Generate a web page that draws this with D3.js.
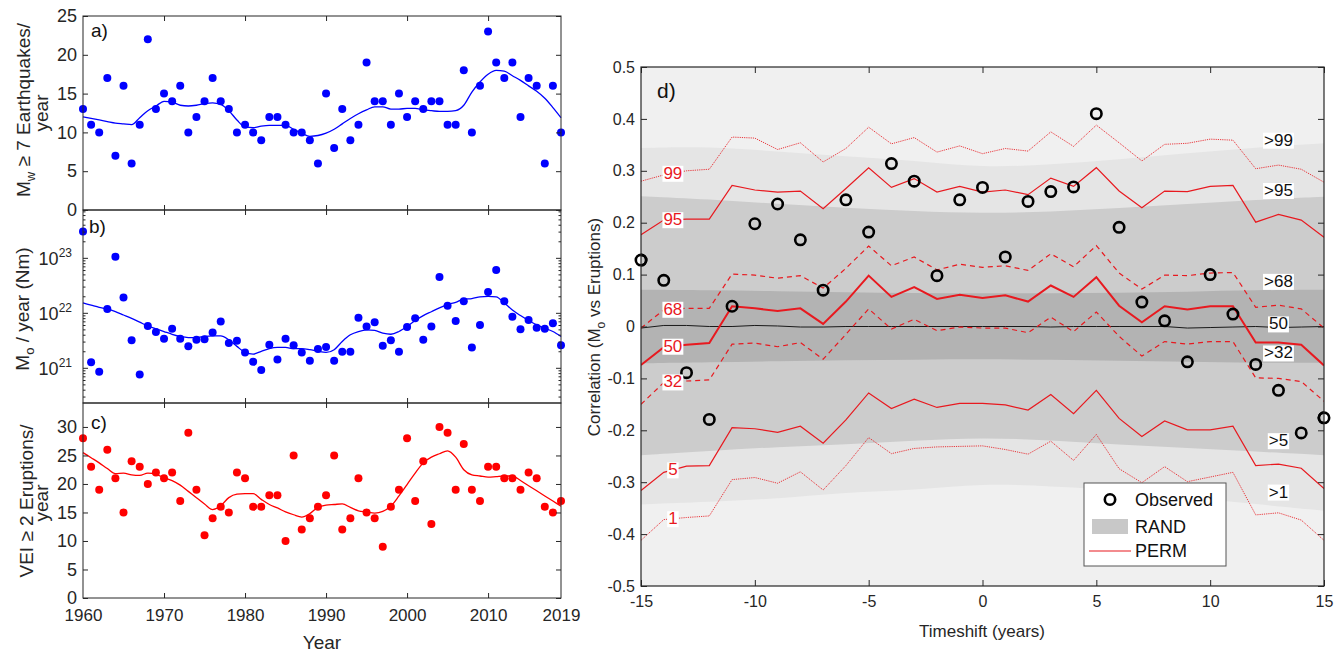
<!DOCTYPE html>
<html>
<head>
<meta charset="utf-8">
<script src="https://cdn.jsdelivr.net/npm/d3@7"></script>
<style>
  body { margin: 0; background: #fff; }
  svg { font-family: "Liberation Sans", Arial, sans-serif; }
</style>
</head>
<body>
<svg id="chart" width="1343" height="654"></svg>
<script>
// ---------- data: panels a-c (one value per year, 1960-2019) ----------
const years = d3.range(1960, 2020);

const quakeCount = [13,11,10,17,7,16,6,11,22,13, 15,14,16,10,12,14,17,14,13,10,
  11,10,9,12,12,11,10,10,9,6, 15,8,13,9,11,19,14,14,11,15,
  12,14,13,14,14,11,11,18,10,16, 23,19,17,19,12,17,16,6,16,10];
const quakeSmooth = [12.0,11.8,11.6,11.4,11.2,11.1,11.0,11.9,12.8,13.4,
  14.0,13.9,13.5,13.4,13.5,13.7,13.8,13.6,12.8,11.6,
  10.7,10.6,10.8,10.9,10.9,10.9,10.4,9.9,9.5,9.6,
  9.9,10.4,11.1,11.8,12.4,12.9,13.3,13.3,13.0,13.0,
  13.1,13.1,12.9,12.8,12.7,12.7,12.8,13.5,15.2,16.5,
  17.5,18.0,17.9,17.3,16.7,16.0,15.3,14.4,13.2,11.9];

// seismic moment per year, log10(Nm)
const momentLog = [23.48,21.10,20.93,22.07,23.02,22.28,21.50,20.88,21.76,21.65,
  21.53,21.71,21.53,21.39,21.51,21.52,21.64,21.84,21.45,21.49,
  21.28,21.11,20.96,21.42,21.15,21.53,21.41,21.28,21.13,21.34,
  21.38,21.13,21.29,21.29,21.91,21.75,21.83,21.40,21.50,21.29,
  21.74,21.90,21.51,21.75,22.65,22.13,21.85,22.21,21.37,21.78,
  22.38,22.78,22.21,21.93,21.70,21.87,21.73,21.71,21.81,21.41];
const momentSmoothLog = [22.18,22.14,22.10,22.07,22.02,21.96,21.90,21.83,21.76,21.71,
  21.66,21.61,21.57,21.55,21.55,21.57,21.58,21.58,21.51,21.39,
  21.28,21.25,21.30,21.35,21.37,21.37,21.35,21.35,21.33,21.30,
  21.28,21.33,21.48,21.60,21.66,21.69,21.68,21.63,21.61,21.66,
  21.75,21.86,21.95,22.02,22.09,22.15,22.19,22.25,22.26,22.29,
  22.30,22.29,22.18,22.05,21.95,21.86,21.78,21.72,21.66,21.57];

const eruptCount = [28,23,19,26,21,15,24,23,20,22, 21,22,17,29,19,11,14,16,15,22,
  21,16,16,18,18,10,25,12,14,16, 18,25,12,14,21,15,14,9,16,19,
  28,17,24,13,30,29,19,27,19,17, 23,23,21,21,19,22,21,16,15,17];
const eruptSmooth = [25.5,24.6,23.7,22.7,21.8,21.9,21.6,21.5,21.9,21.7,
  21.1,20.6,19.8,18.7,17.6,16.5,15.5,16.2,17.6,18.2,
  18.3,18.3,17.3,16.4,15.8,15.1,14.6,14.2,14.8,15.9,
  16.3,16.4,16.5,15.9,15.3,15.1,14.9,15.2,16.1,17.9,
  19.9,21.9,23.7,24.7,25.3,25.8,24.7,22.5,21.6,21.4,
  21.2,21.3,21.4,21.4,20.6,19.7,18.8,17.9,17.0,16.1];

const yearTicks = [1970, 1980, 1990, 2000, 2010];
const yearLabels = [1960, 1970, 1980, 1990, 2000, 2010, 2019];

// ---------- data: panel d ----------
const shifts = [-15,-14,-13,-12,-11,-10,-9,-8,-7,-6,-5,-4,-3,-2,-1,0,1,2,3,4,5,6,7,8,9,10,11,12,13,14,15];
const observed = [0.128,0.089,-0.089,-0.179,0.039,0.198,0.236,0.167,0.070,0.244,0.182,0.314,0.280,0.098,0.244,
  0.268,0.134,0.241,0.260,0.269,0.410,0.191,0.047,0.011,-0.068,0.100,0.024,-0.073,-0.123,-0.205,-0.176];

// PERM percentiles
const perm99 = [0.280,0.292,0.300,0.303,0.365,0.363,0.341,0.354,0.317,0.343,0.384,0.352,0.364,0.336,0.348,
  0.333,0.343,0.338,0.375,0.347,0.388,0.354,0.319,0.351,0.353,0.361,0.359,0.304,0.311,0.303,0.278];
const perm95 = [0.177,0.205,0.207,0.207,0.272,0.263,0.259,0.261,0.227,0.266,0.306,0.268,0.285,0.259,0.270,
  0.259,0.263,0.254,0.286,0.270,0.306,0.261,0.229,0.261,0.260,0.270,0.272,0.201,0.216,0.205,0.172];
const perm68 = [-0.003,0.032,0.035,0.035,0.101,0.099,0.093,0.098,0.074,0.112,0.155,0.117,0.134,0.109,0.120,
  0.114,0.117,0.108,0.140,0.115,0.156,0.103,0.072,0.099,0.098,0.103,0.104,0.037,0.041,0.034,-0.003];
const perm50 = [-0.074,-0.040,-0.035,-0.032,0.039,0.035,0.030,0.035,0.005,0.048,0.098,0.057,0.076,0.053,0.061,
  0.055,0.060,0.048,0.079,0.057,0.095,0.040,0.008,0.039,0.033,0.039,0.039,-0.031,-0.031,-0.035,-0.075];
const perm32 = [-0.150,-0.108,-0.105,-0.103,-0.034,-0.032,-0.039,-0.031,-0.063,-0.015,0.034,-0.005,0.014,-0.008,-0.001,
  -0.003,-0.003,-0.012,0.018,-0.010,0.028,-0.019,-0.057,-0.029,-0.034,-0.029,-0.029,-0.099,-0.100,-0.106,-0.144];
const perm5 = [-0.316,-0.281,-0.269,-0.268,-0.195,-0.197,-0.204,-0.192,-0.225,-0.180,-0.128,-0.158,-0.140,-0.156,-0.148,
  -0.148,-0.151,-0.161,-0.131,-0.168,-0.123,-0.177,-0.212,-0.182,-0.199,-0.199,-0.192,-0.268,-0.265,-0.273,-0.312];
const perm1 = [-0.412,-0.372,-0.368,-0.365,-0.295,-0.291,-0.302,-0.280,-0.315,-0.268,-0.214,-0.245,-0.235,-0.232,-0.231,
  -0.230,-0.237,-0.246,-0.221,-0.258,-0.208,-0.274,-0.301,-0.270,-0.299,-0.290,-0.281,-0.363,-0.359,-0.373,-0.412];
const randMedian = [-0.003,0.002,0.002,0.000,0.000,0.002,0.001,-0.001,-0.001,0.000,0.000,0.000,0.000,0.000,0.000,
  0.000,0.000,0.000,-0.001,0.000,0.000,0.000,0.000,0.000,-0.003,-0.002,-0.001,0.000,-0.002,-0.001,0.000];

// RAND percentile envelopes (smooth), sampled every 3 years
const randT = [-15,-12,-9,-6,-3,0,3,6,9,12,15];
const rand99 = [0.344,0.347,0.337,0.328,0.320,0.306,0.312,0.322,0.334,0.345,0.353];
const rand95 = [0.251,0.245,0.236,0.229,0.222,0.218,0.221,0.228,0.236,0.244,0.250];
const rand68 = [0.071,0.070,0.068,0.066,0.064,0.064,0.064,0.065,0.067,0.070,0.071];
const rand32 = [-0.071,-0.069,-0.067,-0.065,-0.064,-0.063,-0.064,-0.066,-0.068,-0.070,-0.070];
const rand5 = [-0.248,-0.240,-0.232,-0.227,-0.220,-0.214,-0.219,-0.228,-0.234,-0.241,-0.248];
const rand1 = [-0.343,-0.338,-0.332,-0.319,-0.316,-0.302,-0.308,-0.315,-0.330,-0.342,-0.355];

const randLabels = [">99", ">95", ">68", "50", ">32", ">5", ">1"];
const randLabelY = [0.359, 0.262, 0.087, 0.005, -0.051, -0.220, -0.319];

const svg = d3.select("#chart");
const frameColor = "#262626";
const permRed = "#e8191f";

// ---------- panels a-c ----------
const x = d3.scaleLinear().domain([1960, 2019]).range([83, 561]);

function frameTicks(g, yScale, top, bottom, yTicks, tickLen) {
  g.append("g").attr("transform", `translate(0,${bottom})`)
    .call(d3.axisTop(x).tickValues(yearTicks).tickSize(5).tickFormat(""));
  g.append("g").attr("transform", `translate(0,${top})`)
    .call(d3.axisBottom(x).tickValues(yearTicks).tickSize(5).tickFormat(""));
  g.append("g").attr("transform", `translate(${x.range()[0]},0)`)
    .call(d3.axisRight(yScale).tickValues(yTicks).tickSize(tickLen || 5).tickFormat(""));
  g.append("g").attr("transform", `translate(${x.range()[1]},0)`)
    .call(d3.axisLeft(yScale).tickValues(yTicks).tickSize(tickLen || 5).tickFormat(""));
  g.selectAll(".domain").remove();
  g.selectAll(".tick line").attr("stroke", frameColor);
  g.append("rect")
    .attr("x", x.range()[0]).attr("y", top)
    .attr("width", x.range()[1] - x.range()[0]).attr("height", bottom - top)
    .attr("fill", "none").attr("stroke", frameColor).attr("stroke-width", 1);
}

function yLabels(g, yScale, ticks) {
  g.append("g").attr("transform", `translate(${x.range()[0]},0)`)
    .call(d3.axisLeft(yScale).tickValues(ticks).tickSize(0).tickPadding(6))
    .call(a => a.select(".domain").remove())
    .selectAll("text").attr("font-size", 18).attr("fill", "#262626")
    .attr("font-family", "Liberation Sans, Arial, sans-serif");
}

function scatterPanel(g, yScale, vals, smooth, color) {
  g.append("path")
    .datum(smooth)
    .attr("fill", "none").attr("stroke", color).attr("stroke-width", 1.3)
    .attr("d", d3.line().x((d, i) => x(years[i])).y(d => yScale(d)).curve(d3.curveMonotoneX));
  g.selectAll("circle.pt").data(vals).join("circle")
    .attr("class", "pt")
    .attr("cx", (d, i) => x(years[i])).attr("cy", d => yScale(d))
    .attr("r", 4).attr("fill", color);
}

// a)
const yA = d3.scaleLinear().domain([0, 25]).range([210, 16]);
const gA = svg.append("g");
scatterPanel(gA, yA, quakeCount, quakeSmooth, "#0000ff");
frameTicks(gA, yA, 16, 210, [0, 5, 10, 15, 20, 25]);
yLabels(gA, yA, [0, 5, 10, 15, 20, 25]);
gA.append("text").attr("x", 91).attr("y", 37).attr("font-size", 19).attr("fill", "#111").text("a)");

// b)
const yB = d3.scaleLog().domain([Math.pow(10, 20.36), Math.pow(10, 23.87)]).range([403, 210]);
const gB = svg.append("g");
scatterPanel(gB, d => yB(Math.pow(10, d)), momentLog, momentSmoothLog, "#0000ff");
const minorB = yB.ticks().filter(d => {
  const m = d / Math.pow(10, Math.floor(Math.log10(d) + 1e-9));
  return Math.abs(m - 1) > 1e-6;
});
const majorB = [1e21, 1e22, 1e23];
frameTicks(gB, yB, 210, 403, majorB, 5);
gB.append("g").attr("transform", `translate(${x.range()[0]},0)`)
  .call(d3.axisRight(yB).tickValues(minorB).tickSize(2.5).tickFormat(""))
  .call(a => a.select(".domain").remove());
gB.append("g").attr("transform", `translate(${x.range()[1]},0)`)
  .call(d3.axisLeft(yB).tickValues(minorB).tickSize(2.5).tickFormat(""))
  .call(a => a.select(".domain").remove());
gB.selectAll(".tick line").attr("stroke", frameColor);
majorB.forEach(v => {
  const t = gB.append("text")
    .attr("x", 72).attr("y", yB(v) + 7)
    .attr("text-anchor", "end").attr("font-size", 18).attr("fill", "#262626");
  t.append("tspan").text("10");
  t.append("tspan").attr("dy", -8).attr("font-size", 12).text(Math.round(Math.log10(v)));
});
gB.append("text").attr("x", 89).attr("y", 233).attr("font-size", 19).attr("fill", "#111").text("b)");

// c)
const yC = d3.scaleLinear().domain([0, 34.2]).range([598, 403]);
const gC = svg.append("g");
scatterPanel(gC, yC, eruptCount, eruptSmooth, "#ff0000");
frameTicks(gC, yC, 403, 598, [0, 5, 10, 15, 20, 25, 30]);
yLabels(gC, yC, [0, 5, 10, 15, 20, 25, 30]);
gC.append("g").attr("transform", "translate(0,598)")
  .call(d3.axisBottom(x).tickValues(yearLabels).tickSize(0).tickPadding(11).tickFormat(d3.format("d")))
  .call(a => a.select(".domain").remove())
  .selectAll("text").attr("font-size", 17).attr("fill", "#262626")
  .attr("font-family", "Liberation Sans, Arial, sans-serif");
gC.append("text").attr("x", 91).attr("y", 429).attr("font-size", 19).attr("fill", "#111").text("c)");
svg.append("text").attr("x", 322).attr("y", 649).attr("text-anchor", "middle")
  .attr("font-size", 19).attr("fill", "#262626").text("Year");

// rotated y titles
function rotTitle(cx, cy, build) {
  const t = svg.append("text")
    .attr("transform", `translate(${cx},${cy}) rotate(-90)`)
    .attr("text-anchor", "middle").attr("font-size", 19).attr("fill", "#262626");
  build(t);
}
rotTitle(30, 110, t => {
  t.append("tspan").text("M");
  t.append("tspan").attr("dy", 5).attr("font-size", 13).text("w");
  t.append("tspan").attr("dy", -5).text(" \u2265 7 Earthquakes/");
});
rotTitle(48, 113, t => t.text("year"));
rotTitle(29, 309, t => {
  t.append("tspan").text("M");
  t.append("tspan").attr("dy", 5).attr("font-size", 13).text("o");
  t.append("tspan").attr("dy", -5).text(" / year (Nm)");
});
rotTitle(33, 501, t => t.text("VEI \u2265 2 Eruptions/"));
rotTitle(48, 503, t => t.text("year"));

// ---------- panel d ----------
const xd = d3.scaleLinear().domain([-15, 15]).range([641, 1324]);
const yd = d3.scaleLinear().domain([-0.5, 0.5]).range([586, 67]);
const gD = svg.append("g");

gD.append("clipPath").attr("id", "clipD").append("rect")
  .attr("x", 641).attr("y", 67).attr("width", 683).attr("height", 519);
const plot = gD.append("g").attr("clip-path", "url(#clipD)");

plot.append("rect").attr("x", 641).attr("y", 67).attr("width", 683).attr("height", 519).attr("fill", "#f0f0f0");

function band(hi, lo, fill) {
  plot.append("path")
    .datum(randT.map((t, i) => [t, hi[i], lo[i]]))
    .attr("fill", fill)
    .attr("d", d3.area().x(d => xd(d[0])).y0(d => yd(d[2])).y1(d => yd(d[1])).curve(d3.curveBasis));
}
band(rand99, rand1, "#e5e5e5");
band(rand95, rand5, "#cccccc");
band(rand68, rand32, "#b3b3b3");

const lineD = d3.line().x((d, i) => xd(shifts[i])).y(d => yd(d));
plot.append("path").datum(randMedian).attr("fill", "none")
  .attr("stroke", "#1a1a1a").attr("stroke-width", 1).attr("d", lineD);

const permSeries = [
  { vals: perm99, w: 1, dash: "1.2,1", op: 0.85, label: "99" },
  { vals: perm95, w: 1.2, dash: null, op: 1, label: "95" },
  { vals: perm68, w: 1.2, dash: "5,4", op: 1, label: "68" },
  { vals: perm50, w: 2, dash: null, op: 1, label: "50" },
  { vals: perm32, w: 1.2, dash: "5,4", op: 1, label: "32" },
  { vals: perm5, w: 1.2, dash: null, op: 1, label: "5" },
  { vals: perm1, w: 1, dash: "1.2,1", op: 0.85, label: "1" }
];
permSeries.forEach(s => {
  plot.append("path").datum(s.vals).attr("fill", "none")
    .attr("stroke", permRed).attr("stroke-width", s.w).attr("stroke-opacity", s.op)
    .attr("stroke-dasharray", s.dash).attr("d", lineD);
});

// labels on a white box
function boxLabel(cx, cy, text, color) {
  const g = gD.append("g");
  const t = g.append("text").attr("x", cx).attr("y", cy)
    .attr("text-anchor", "middle").attr("dominant-baseline", "central")
    .attr("font-size", 17).attr("fill", color).text(text);
  const bb = t.node().getBBox();
  g.insert("rect", "text")
    .attr("x", bb.x - 1).attr("y", bb.y + 2).attr("width", bb.width + 2).attr("height", bb.height - 3)
    .attr("fill", "#fff");
}
const labelShift = -13.6;
permSeries.forEach(s => {
  const v = d3.interpolateNumber(s.vals[1], s.vals[2])(labelShift + 14);
  boxLabel(xd(labelShift), yd(v), s.label, permRed);
});
randLabels.forEach((l, i) => boxLabel(xd(13.0), yd(randLabelY[i]), l, "#111"));

// observed
plot.selectAll("circle.obs").data(observed).join("circle")
  .attr("class", "obs")
  .attr("cx", (d, i) => xd(shifts[i])).attr("cy", d => yd(d))
  .attr("r", 5.2).attr("fill", "none").attr("stroke", "#000").attr("stroke-width", 2.6);
// the edge markers are not clipped in the original
gD.selectAll("circle.edge").data(shifts.filter(t => t === -15 || t === 15)).join("circle")
  .attr("class", "edge")
  .attr("cx", t => xd(t)).attr("cy", t => yd(observed[shifts.indexOf(t)]))
  .attr("r", 5.2).attr("fill", "none").attr("stroke", "#000").attr("stroke-width", 2.6);

// axes of d
const dxTicks = [-15, -10, -5, 0, 5, 10, 15];
const dyTicks = d3.range(-5, 6).map(k => k / 10);
const fmtD = d => (Math.abs(d) < 1e-9 ? "0" : d.toFixed(1));
const axD = gD.append("g");
axD.append("g").attr("transform", "translate(0,586)")
  .call(d3.axisTop(xd).tickValues(dxTicks).tickSize(6).tickFormat(""));
axD.append("g").attr("transform", "translate(0,67)")
  .call(d3.axisBottom(xd).tickValues(dxTicks).tickSize(6).tickFormat(""));
axD.append("g").attr("transform", "translate(641,0)")
  .call(d3.axisRight(yd).tickValues(dyTicks).tickSize(6).tickFormat(""));
axD.append("g").attr("transform", "translate(1324,0)")
  .call(d3.axisLeft(yd).tickValues(dyTicks).tickSize(6).tickFormat(""));
axD.selectAll(".domain").remove();
axD.selectAll(".tick line").attr("stroke", frameColor);
axD.append("rect").attr("x", 641).attr("y", 67).attr("width", 683).attr("height", 519)
  .attr("fill", "none").attr("stroke", frameColor).attr("stroke-width", 1.2);

axD.append("g").attr("transform", "translate(641,0)")
  .call(d3.axisLeft(yd).tickValues(dyTicks).tickSize(0).tickPadding(6).tickFormat(fmtD))
  .call(a => a.select(".domain").remove())
  .selectAll("text").attr("font-size", 16).attr("fill", "#262626")
  .attr("font-family", "Liberation Sans, Arial, sans-serif");
axD.append("g").attr("transform", "translate(0,586)")
  .call(d3.axisBottom(xd).tickValues(dxTicks).tickSize(0).tickPadding(10).tickFormat(d => String(d)))
  .call(a => a.select(".domain").remove())
  .selectAll("text").attr("font-size", 16).attr("fill", "#262626")
  .attr("font-family", "Liberation Sans, Arial, sans-serif");

gD.append("text").attr("x", 657).attr("y", 98).attr("font-size", 21).attr("fill", "#111").text("d)");
gD.append("text").attr("x", 982).attr("y", 637).attr("text-anchor", "middle")
  .attr("font-size", 17).attr("fill", "#262626").text("Timeshift (years)");
const ctitle = gD.append("text")
  .attr("transform", "translate(600,327) rotate(-90)")
  .attr("text-anchor", "middle").attr("font-size", 17).attr("fill", "#262626");
ctitle.append("tspan").text("Correlation (M");
ctitle.append("tspan").attr("dy", 5).attr("font-size", 12).text("o");
ctitle.append("tspan").attr("dy", -5).text(" vs Eruptions)");

// legend
const leg = gD.append("g");
leg.append("rect").attr("x", 1084).attr("y", 483).attr("width", 142).attr("height", 83)
  .attr("fill", "#fff").attr("stroke", "#555").attr("stroke-width", 1);
leg.append("circle").attr("cx", 1110).attr("cy", 499.5).attr("r", 5.2)
  .attr("fill", "none").attr("stroke", "#000").attr("stroke-width", 2.6);
leg.append("rect").attr("x", 1092).attr("y", 519).attr("width", 36).attr("height", 15).attr("fill", "#c8c8c8");
leg.append("line").attr("x1", 1089).attr("x2", 1131).attr("y1", 551).attr("y2", 551)
  .attr("stroke", permRed).attr("stroke-width", 1.2);
[["Observed", 500], ["RAND", 527], ["PERM", 551]].forEach(([t, yy]) => {
  leg.append("text").attr("x", 1135).attr("y", yy).attr("dominant-baseline", "central")
    .attr("font-size", 18).attr("fill", "#111").text(t);
});
</script>
</body>
</html>
